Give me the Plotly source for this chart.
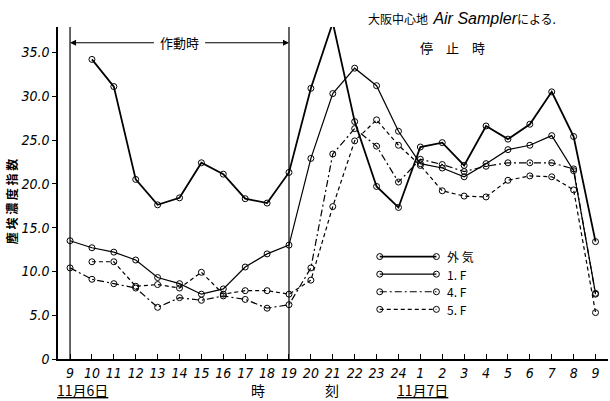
import plotly.graph_objects as go

hours = ["9", "10", "11", "12", "13", "14", "15", "16", "17", "18", "19", "20", "21", "22", "23", "24",
         "1", "2", "3", "4", "5", "6", "7", "8", "9"]
outside = [None, 34.2, 31.1, 20.5, 17.6, 18.4, 22.4, 21.1, 18.3, 17.8, 21.3, 30.9, 38.4, 27.1, 19.7, 17.3,
           24.2, 24.7, 22.1, 26.6, 25.1, 26.8, 30.5, 25.4, 13.4]
floor1 = [13.5, 12.7, 12.2, 11.3, 9.3, 8.6, 7.4, 8.0, 10.5, 12.0, 13.0, 22.9, 30.3, 33.2, 31.2, 26.0,
          22.3, 21.8, 20.8, 22.3, 23.9, 24.4, 25.5, 21.5, 7.5]
floor4 = [10.4, 9.1, 8.6, 8.1, 5.9, 7.0, 6.7, 7.2, 6.8, 5.8, 6.2, 10.4, 23.4, 26.3, 24.3, 20.2,
          22.8, 22.2, 21.4, 22.0, 22.4, 22.4, 22.4, 21.7, 7.4]
floor5 = [None, 11.1, 11.1, 8.3, 8.5, 8.1, 9.9, 7.4, 7.8, 7.8, 7.4, 9.0, 17.4, 24.9, 27.3, 24.4,
          22.1, 19.2, 18.6, 18.5, 20.4, 20.9, 20.8, 19.3, 5.3]
series_names = ["外 気", "1. F", "4. F", "5. F"]
y_ticks = [0, 5, 10, 15, 20, 25, 30, 35]
y_tick_text = ["0", "5.0", "10.0", "15.0", "20.0", "25.0", "30.0", "35.0"]

xs = list(range(len(hours)))
styles = [
    dict(width=1.8, dash="solid"),
    dict(width=1.2, dash="solid"),
    dict(width=1.2, dash="7px,3px,2px,3px"),
    dict(width=1.2, dash="4px,3px"),
]
data = [outside, floor1, floor4, floor5]

JP = "Noto Sans CJK JP"
NUM = "Liberation Sans Narrow, DejaVu Sans Condensed, Liberation Sans, sans-serif"

fig = go.Figure()
for name, vals, st in zip(series_names, data, styles):
    fig.add_trace(go.Scatter(
        x=xs, y=vals, mode="lines+markers", name=name, connectgaps=False,
        line=dict(color="black", width=st["width"], dash=st["dash"]),
        marker=dict(symbol="circle-open", size=6, color="black", line=dict(width=1)),
        showlegend=False, cliponaxis=False,
    ))

# hand-drawn style legend on an overlay axis (0..1 space)
leg_font = 12
plot_h = 401 - 27 - 42
line_step = 17.6 / plot_h
leg_center = 0.229
leg_y = [leg_center + (1.5 - i) * line_step for i in range(len(series_names))]
for name, st, ly in zip(series_names, styles, leg_y):
    fig.add_trace(go.Scatter(
        x=[0.585, 0.688], y=[ly, ly], xaxis="x2", yaxis="y2", mode="lines+markers",
        line=dict(color="black", width=st["width"], dash=st["dash"]),
        marker=dict(symbol="circle-open", size=6, color="black", line=dict(width=1)),
        showlegend=False, hoverinfo="skip",
    ))
    fig.add_annotation(xref="paper", yref="paper", x=0.704, y=ly, text=name,
                       showarrow=False, xanchor="left", yanchor="middle",
                       font=dict(family=JP, size=leg_font, color="black"))

ymax = 37.9
op_start = 0
op_end = hours.index("19")

# operating period lines
for xv in (op_start, op_end):
    fig.add_shape(type="line", xref="x", yref="y", x0=xv, x1=xv, y0=0, y1=ymax,
                  line=dict(color="black", width=1.2))

arrow_y = 36.1
mid = (op_start + op_end) / 2
fig.add_annotation(x=op_start, y=arrow_y, ax=mid - 1.1, ay=arrow_y, axref="x", ayref="y",
                   xref="x", yref="y", text="", showarrow=True, arrowhead=2, arrowsize=1,
                   arrowwidth=1.2, arrowcolor="black")
fig.add_annotation(x=op_end, y=arrow_y, ax=mid + 1.1, ay=arrow_y, axref="x", ayref="y",
                   xref="x", yref="y", text="", showarrow=True, arrowhead=2, arrowsize=1,
                   arrowwidth=1.2, arrowcolor="black")
fig.add_annotation(x=mid, y=arrow_y, xref="x", yref="y", text="作動時", showarrow=False,
                   font=dict(family=JP, size=13, color="black"), bgcolor="white")

# header texts
fig.add_annotation(xref="paper", yref="paper", x=0.735, y=1.027, showarrow=False,
                   text="大阪中心地  <span style='font-family:Liberation Sans, sans-serif;font-size:16px'>"
                        "<i>Air Sampler</i></span>による.",
                   font=dict(family=JP, size=12, color="black"), xanchor="center", yanchor="middle")
fig.add_annotation(xref="paper", yref="paper", x=0.718, y=0.937, showarrow=False,
                   text="停　止　時", font=dict(family=JP, size=13, color="black"),
                   xanchor="center", yanchor="middle")

# bottom labels
for txt, xp in [("<u>11月6日</u>", 0.044), ("時", 0.364), ("刻", 0.498), ("<u>11月7日</u>", 0.662)]:
    fig.add_annotation(xref="paper", yref="paper", x=xp, y=-0.093, showarrow=False, text=txt,
                       font=dict(family=JP, size=14, color="black"), xanchor="center", yanchor="middle")

# y title
fig.add_annotation(xref="paper", yref="paper", x=-0.083, y=0.476, showarrow=False,
                   text="<b>塵 埃 濃 度 指 数</b>", textangle=-90,
                   font=dict(family=JP, size=12, color="black"), xanchor="center", yanchor="middle")

fig.update_layout(
    width=610, height=401,
    margin=dict(l=58, r=2, t=27, b=42),
    paper_bgcolor="white", plot_bgcolor="white",
    xaxis=dict(range=[-0.55, len(hours) - 1 + 0.57], tickmode="array", tickvals=xs, ticktext=hours,
               showgrid=False, zeroline=False, showline=True, linecolor="black", linewidth=1.5,
               ticks="inside", ticklen=5, tickwidth=1, tickcolor="black",
               tickfont=dict(family=NUM, size=14, color="black", style="italic")),
    yaxis=dict(range=[0, ymax], tickmode="array", tickvals=y_ticks, ticktext=y_tick_text,
               showgrid=False, zeroline=False, showline=True, linecolor="black", linewidth=1.5,
               ticks="outside", ticklen=4, tickwidth=1, tickcolor="black",
               tickfont=dict(family=NUM, size=14, color="black", style="italic")),
    xaxis2=dict(domain=[0, 1], range=[0, 1], anchor="y2", overlaying="x", visible=False),
    yaxis2=dict(domain=[0, 1], range=[0, 1], anchor="x2", overlaying="y", visible=False),
)

fig.write_html("out.html")
